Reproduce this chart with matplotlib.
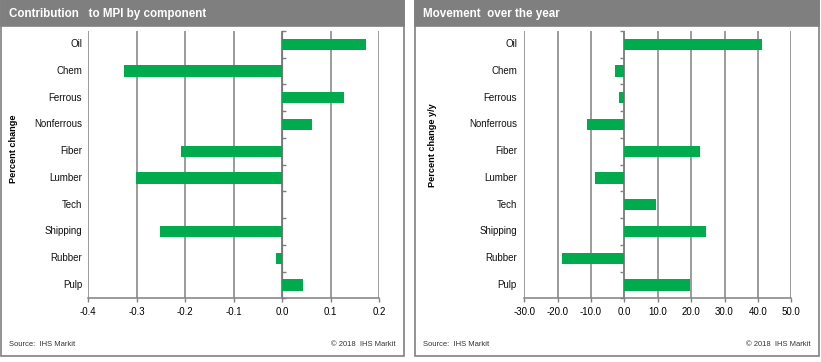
import matplotlib
matplotlib.use("Agg")
import matplotlib.pyplot as plt
from matplotlib.patches import Rectangle

plt.rcParams['font.family'] = ['Liberation Sans', 'DejaVu Sans']

categories = ["Oil", "Chem", "Ferrous", "Nonferrous", "Fiber", "Lumber",
              "Tech", "Shipping", "Rubber", "Pulp"]
contribution = [0.172, -0.326, 0.127, 0.061, -0.208, -0.301, 0.0, -0.252, -0.013, 0.043]
movement = [41.2, -2.8, -1.6, -11.2, 22.7, -8.8, 9.5, 24.5, -18.7, 19.6]

left_ticks = [-0.4, -0.3, -0.2, -0.1, 0.0, 0.1, 0.2]
left_ticklabels = ["-0.4", "-0.3", "-0.2", "-0.1", "0.0", "0.1", "0.2"]
right_ticks = [-30, -20, -10, 0, 10, 20, 30, 40, 50]
right_ticklabels = ["-30.0", "-20.0", "-10.0", "0.0", "10.0", "20.0", "30.0", "40.0", "50.0"]

titles = ["Contribution   to MPI by component", "Movement  over the year"]
ylabels = ["Percent change", "Percent change y/y"]

W, H = 821, 362
fig = plt.figure(figsize=(W / 100, H / 100), dpi=100)
fig.patch.set_facecolor("white")

GREEN = "#00AB4E"
GRAY = "#808080"


def px(x0, y0, x1, y1):
    return [x0 / W, 1 - y1 / H, (x1 - x0) / W, (y1 - y0) / H]


def panel(px0, px1, ax_x0, ax_x1, values, ticks, ticklabels, title, ylabel,
          ylabel_x, ylabel_y, lab_right):
    fig.patches.append(Rectangle((px0 / W, 1 - 355.5 / H), (px1 - px0) / W, 355.5 / H,
                                 transform=fig.transFigure, facecolor="white",
                                 edgecolor=GRAY, linewidth=1.2, zorder=-2))
    fig.patches.append(Rectangle((px0 / W, 1 - 25.5 / H), (px1 - px0) / W, 25.5 / H,
                                 transform=fig.transFigure, facecolor="#7F7F7F",
                                 edgecolor="#7F7F7F", linewidth=1.2, zorder=-1))
    fig.text((px0 + 8) / W, 1 - 13.5 / H, title, color="white", fontsize=8.4,
             fontweight="bold", va="center", ha="left")
    fig.text((px0 + 8) / W, 1 - 344 / H, "Source:  IHS Markit", fontsize=5.5,
             color="#333333", va="center", ha="left")
    fig.text((px1 - 8) / W, 1 - 344 / H, "\u00a9 2018  IHS Markit", fontsize=5.5,
             color="#333333", va="center", ha="right")
    fig.text(ylabel_x / W, 1 - ylabel_y / H, ylabel, rotation=90, fontsize=6.6,
             fontweight="bold", va="center", ha="center")

    ax = fig.add_axes(px(ax_x0, 30.8, ax_x1, 298.3))
    ax.set_zorder(5)
    ax.set_facecolor("none")
    n = len(categories)
    ypos = list(range(n))
    ax.barh(ypos, values, height=0.42, color=GREEN, zorder=3)
    ax.set_ylim(n - 0.5, -0.5)
    ax.set_xlim(ticks[0], ticks[-1])
    ax.set_xticks(ticks)
    ax.set_xticklabels(ticklabels, fontsize=7)
    ax.xaxis.grid(True, color=GRAY, linewidth=1.1, zorder=1)
    ax.set_axisbelow(True)
    for s in ["top", "right", "left"]:
        ax.spines[s].set_visible(False)
    ax.spines["bottom"].set_color(GRAY)
    ax.spines["bottom"].set_linewidth(1.1)
    ax.tick_params(axis="x", length=3, color=GRAY, width=1, pad=3)
    ax.set_yticks(ypos)
    ax.set_yticklabels([])
    ax.tick_params(axis="y", length=0)
    for i, c in enumerate(categories):
        ax.annotate(c, xy=(0, i), xycoords=("axes fraction", "data"),
                    xytext=(lab_right - ax_x0, 0), textcoords="offset pixels",
                    ha="right", va="center", fontsize=7, color="#111111")
    ax.axvline(0, color=GRAY, linewidth=1.1, zorder=2)
    loc = (0 - ticks[0]) / (ticks[-1] - ticks[0])
    sec = ax.secondary_yaxis(loc)
    sec.set_yticks([i - 0.5 for i in range(n + 1)])
    sec.set_yticklabels([])
    sec.tick_params(axis="y", length=3, color=GRAY, width=1, direction="out")
    sec.spines["left"].set_visible(False)
    return ax


panel(0.5, 403.5, 88, 379.3, contribution, left_ticks, left_ticklabels,
      titles[0], ylabels[0], 13, 149, 82)
panel(415, 818.5, 524.3, 791.3, movement, right_ticks, right_ticklabels,
      titles[1], ylabels[1], 432, 145, 517)

fig.savefig("out.png", dpi=100)
